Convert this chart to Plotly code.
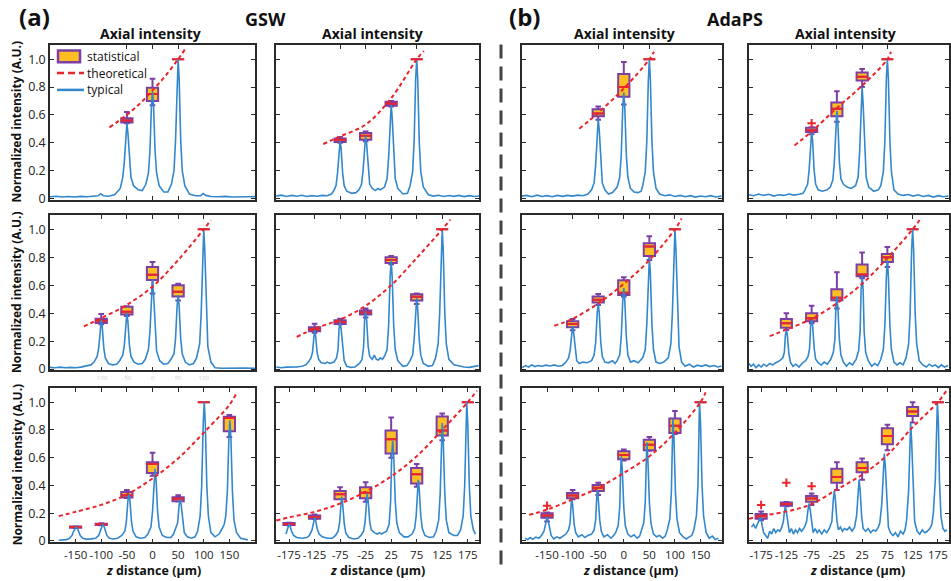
import plotly.graph_objects as go

# ---------------- DATA ----------------
# Panel 1: GSW, row 1
p1_typ = [(-200,.010),(-188,.014),(-176,.008),(-164,.012),(-152,.009),(-140,.013),(-128,.010),(-116,.012),(-106,.018),(-101,.032),(-96,.018),(-86,.014),(-74,.025),
          (-63,.07),(-58,.15),(-55,.26),(-52,.47),(-50,.54),(-48,.47),(-45,.26),(-42,.15),(-37,.09),(-28,.06),(-20,.055),
          (-13,.10),(-8,.18),(-5,.34),(-2,.67),(0,.77),(2,.67),(5,.34),(8,.18),(13,.09),(22,.045),(30,.045),
          (37,.10),(42,.20),(45,.42),(48,.86),(50,1.0),(52,.86),(55,.42),(58,.20),(63,.09),
          (72,.03),(84,.018),(94,.018),(99,.034),(104,.02),(114,.012),(128,.010),(142,.013),(156,.009),(170,.012),(184,.010),(200,.011)]
p1_thz = [-84, -50, -25, 0, 25, 50, 63]
p1_thy = [.51, .60, .68, .776, .88, 1.0, 1.07]
p1_pos = [-50, 0, 50]
p1_q1 = [.545, .70, 1.0]
p1_med = [.56, .75, 1.0]
p1_q3 = [.575, .795, 1.0]
p1_lo = [.54, .67, 1.0]
p1_hi = [.62, .86, 1.0]
p1_out = []

# Panel 2: GSW, row 1
p2_typ = [(-200,.015),(-190,.022),(-180,.012),(-170,.02),(-160,.014),(-150,.021),(-140,.012),(-130,.018),(-120,.014),(-110,.02),(-100,.018),(-92,.03),
          (-88,.05),(-83,.09),(-80,.18),(-77,.36),(-75,.41),(-73,.36),(-70,.18),(-67,.09),(-62,.05),(-52,.035),(-44,.04),
          (-38,.06),(-33,.10),(-30,.20),(-27,.39),(-25,.45),(-23,.39),(-20,.20),(-17,.10),(-12,.07),(-6,.055),(-1,.07),(4,.06),
          (12,.08),(17,.14),(20,.29),(23,.58),(25,.67),(27,.58),(30,.29),(33,.14),(38,.07),(48,.03),(57,.035),
          (62,.09),(67,.19),(70,.41),(73,.86),(75,1.0),(77,.86),(80,.41),(83,.19),(88,.08),
          (98,.025),(108,.015),(118,.021),(128,.012),(138,.019),(148,.013),(158,.02),(168,.011),(178,.018),(188,.012),(197,.016)]
p2_thz = [-108, -75, -25, 25, 75, 89]
p2_thy = [.39, .445, .53, .72, 1.0, 1.06]
p2_pos = [-75, -25, 25, 75]
p2_q1 = [.405, .42, .665, 1.0]
p2_med = [.42, .45, .68, 1.0]
p2_q3 = [.43, .47, .695, 1.0]
p2_lo = [.40, .41, .66, 1.0]
p2_hi = [.44, .48, .70, 1.0]
p2_out = []

# Panel 3: AdaPS, row 1
p3_typ = [(-199,.015),(-190,.02),(-180,.01),(-170,.022),(-160,.012),(-150,.018),(-140,.01),(-130,.02),(-120,.013),(-110,.02),(-100,.015),(-90,.022),(-80,.018),(-70,.03),
          (-63,.06),(-58,.11),(-55,.24),(-52,.49),(-50,.57),(-48,.49),(-45,.24),(-42,.11),(-37,.06),(-30,.03),(-22,.04),
          (-13,.08),(-8,.15),(-5,.31),(-2,.65),(0,.76),(2,.65),(5,.31),(8,.15),(13,.07),(20,.045),(28,.04),(34,.05),
          (37,.09),(42,.19),(45,.41),(48,.85),(50,1.0),(52,.85),(55,.41),(58,.19),(63,.07),
          (70,.03),(80,.018),(90,.024),(100,.012),(110,.02),(120,.01),(130,.018),(140,.008),(150,.016),(160,.01),(170,.018),(180,.009),(191,.015)]
p3_thz = [-87, -50, 0, 50, 59]
p3_thy = [.50, .615, .79, 1.0, 1.055]
p3_pos = [-50, 0, 50]
p3_q1 = [.59, .73, 1.0]
p3_med = [.61, .80, 1.0]
p3_q3 = [.64, .895, 1.0]
p3_lo = [.565, .675, 1.0]
p3_hi = [.66, .98, 1.0]
p3_out = []

# Panel 4: AdaPS, row 1
p4_typ = [(-199,.025),(-190,.018),(-180,.03),(-170,.02),(-160,.028),(-150,.015),(-140,.025),(-130,.02),(-120,.03),(-110,.022),(-100,.028),(-92,.035),
          (-88,.06),(-83,.10),(-80,.20),(-77,.41),(-75,.48),(-73,.41),(-70,.20),(-67,.10),(-62,.06),(-54,.05),(-44,.06),
          (-38,.08),(-33,.13),(-30,.26),(-27,.54),(-25,.63),(-23,.54),(-20,.26),(-17,.14),(-12,.10),(-5,.08),(3,.07),
          (12,.09),(17,.15),(20,.33),(23,.68),(25,.80),(27,.68),(30,.33),(33,.15),(38,.08),(48,.05),(57,.06),
          (62,.09),(67,.19),(70,.41),(73,.86),(75,1.0),(77,.86),(80,.41),(83,.19),(88,.06),
          (96,.03),(106,.02),(116,.026),(126,.015),(136,.024),(146,.012),(156,.02),(166,.008),(176,.018),(186,.01),(196,.016)]
p4_thz = [-109, -75, -25, 25, 75, 82]
p4_thy = [.38, .48, .65, .81, 1.0, 1.055]
p4_pos = [-75, -25, 25, 75]
p4_q1 = [.477, .59, .847, 1.0]
p4_med = [.49, .645, .875, 1.0]
p4_q3 = [.507, .69, .905, 1.0]
p4_lo = [.46, .55, .80, 1.0]
p4_hi = [.51, .77, .93, 1.0]
p4_out = [(-75, .54)]

# Panel 5: GSW, row 2
p5_typ = [(-200,.012),(-190,.01),(-180,.014),(-170,.01),(-160,.012),(-150,.01),(-140,.014),(-130,.02),(-120,.03),
          (-114,.05),(-108,.09),(-105,.15),(-102,.30),(-100,.35),(-98,.30),(-95,.15),(-92,.08),(-86,.04),(-78,.03),(-70,.035),
          (-64,.06),(-58,.10),(-55,.17),(-52,.34),(-50,.40),(-48,.34),(-45,.17),(-42,.09),(-36,.05),(-28,.035),(-20,.04),
          (-14,.07),(-8,.14),(-5,.27),(-2,.54),(0,.64),(2,.54),(5,.27),(8,.13),(14,.06),(22,.035),(30,.04),
          (36,.07),(42,.11),(45,.22),(48,.45),(50,.53),(52,.45),(55,.22),(58,.11),(64,.05),(72,.03),(80,.04),
          (86,.08),(92,.18),(95,.40),(98,.85),(100,1.0),(102,.85),(105,.40),(108,.16),(114,.05),
          (122,.01),(135,.006),(150,.008),(165,.005),(180,.007),(200,.006)]
p5_thz = [-134, -100, -50, 0, 50, 100, 114]
p5_thy = [.305, .365, .46, .59, .78, 1.0, 1.066]
p5_pos = [-100, -50, 0, 50, 100]
p5_q1 = [.33, .39, .637, .52, 1.0]
p5_med = [.345, .41, .675, .554, 1.0]
p5_q3 = [.36, .446, .73, .60, 1.0]
p5_lo = [.32, .38, .54, .49, 1.0]
p5_hi = [.394, .45, .767, .61, 1.0]
p5_out = []

# Panel 6: GSW, row 2
p6_typ = [(-200,.015),(-190,.01),(-180,.014),(-170,.012),(-160,.015),(-150,.02),(-142,.03),
          (-137,.05),(-132,.08),(-129,.12),(-127,.24),(-125,.28),(-123,.24),(-120,.12),(-117,.07),(-112,.045),(-104,.04),(-100,.05),(-95,.04),
          (-87,.05),(-82,.08),(-79,.14),(-77,.29),(-75,.34),(-73,.29),(-70,.14),(-67,.06),(-62,.02),(-54,.012),(-46,.015),
          (-37,.04),(-32,.07),(-29,.16),(-27,.35),(-25,.41),(-23,.35),(-20,.16),(-17,.09),(-12,.07),(-8,.10),(-4,.07),(0,.065),(4,.08),(8,.07),
          (13,.10),(17,.14),(20,.31),(23,.66),(25,.78),(27,.66),(30,.31),(33,.14),(38,.06),(48,.02),(56,.025),
          (62,.06),(67,.10),(70,.21),(73,.43),(75,.51),(77,.43),(80,.21),(83,.10),(88,.04),(98,.02),(106,.025),
          (112,.08),(117,.18),(120,.40),(123,.85),(125,1.0),(127,.85),(130,.40),(133,.18),(138,.07),
          (148,.03),(158,.02),(168,.015),(178,.012),(188,.018),(196,.025)]
p6_thz = [-160, -125, -75, -25, 25, 75, 125, 141]
p6_thy = [.23, .29, .354, .453, .60, .795, 1.0, 1.07]
p6_pos = [-125, -75, -25, 25, 75, 125]
p6_q1 = [.27, .323, .39, .76, .49, 1.0]
p6_med = [.285, .337, .405, .78, .517, 1.0]
p6_q3 = [.30, .35, .42, .80, .535, 1.0]
p6_lo = [.26, .32, .37, .75, .465, 1.0]
p6_hi = [.325, .36, .434, .81, .54, 1.0]
p6_out = []

# Panel 7: AdaPS, row 2
p7_typ = [(-199,.01),(-192,.025),(-186,.015),(-180,.03),(-174,.018),(-168,.025),(-160,.02),(-152,.028),(-144,.022),(-136,.03),(-128,.02),(-120,.026),
          (-113,.05),(-108,.08),(-105,.13),(-102,.26),(-100,.31),(-98,.26),(-95,.13),(-92,.06),(-87,.04),(-80,.05),(-72,.045),
          (-63,.06),(-58,.10),(-55,.19),(-52,.40),(-50,.47),(-48,.40),(-45,.19),(-42,.09),(-37,.05),(-30,.045),(-22,.06),(-17,.04),
          (-13,.06),(-8,.10),(-5,.23),(-2,.49),(0,.58),(2,.49),(5,.23),(8,.10),(13,.05),(20,.06),(28,.045),
          (37,.08),(42,.14),(45,.32),(48,.68),(50,.80),(52,.68),(55,.32),(58,.14),(63,.05),(70,.04),(78,.05),
          (87,.08),(92,.18),(95,.40),(98,.85),(100,1.0),(102,.85),(105,.40),(108,.16),(113,.05),
          (120,.02),(128,.035),(136,.015),(144,.028),(152,.02),(160,.03),(168,.018),(176,.025),(184,.015),(191,.022)]
p7_thz = [-136, -100, -50, 0, 50, 100, 113]
p7_thy = [.31, .36, .47, .61, .78, 1.0, 1.078]
p7_pos = [-100, -50, 0, 50, 100]
p7_q1 = [.30, .476, .53, .81, 1.0]
p7_med = [.323, .497, .547, .877, 1.0]
p7_q3 = [.342, .519, .635, .90, 1.0]
p7_lo = [.278, .458, .52, .78, 1.0]
p7_hi = [.358, .538, .658, .95, 1.0]
p7_out = []

# Panel 8: AdaPS, row 2
p8_typ = [(-199,.04),(-195,.02),(-190,.035),(-185,.01),(-180,.03),(-175,.015),(-170,.035),(-164,.02),(-158,.04),(-152,.03),(-146,.045),
          (-138,.06),(-132,.08),(-129,.12),(-127,.24),(-125,.28),(-123,.24),(-120,.11),(-117,.05),(-112,.02),(-106,.035),(-100,.015),(-94,.04),
          (-87,.06),(-82,.09),(-79,.15),(-77,.31),(-75,.36),(-73,.31),(-70,.15),(-67,.07),(-62,.045),(-56,.03),(-50,.05),(-44,.035),
          (-37,.07),(-32,.12),(-29,.21),(-27,.44),(-25,.52),(-23,.44),(-20,.21),(-17,.10),(-12,.05),(-6,.02),(0,.045),(6,.03),
          (13,.07),(18,.13),(21,.27),(23,.57),(25,.67),(27,.57),(29,.27),(32,.12),(37,.06),(44,.02),(50,.04),(56,.025),
          (62,.07),(67,.14),(70,.31),(73,.66),(75,.78),(77,.66),(80,.31),(83,.14),(88,.05),(94,.03),(100,.045),(106,.03),
          (112,.08),(117,.18),(120,.40),(123,.85),(125,1.0),(127,.85),(130,.40),(133,.18),(138,.06),
          (145,.03),(152,.015),(158,.035),(164,.02),(170,.03),(176,.01),(182,.03),(188,.015),(195,.025)]
p8_thz = [-158, -125, -75, -25, 25, 75, 125, 141]
p8_thy = [.236, .283, .36, .47, .61, .795, 1.0, 1.078]
p8_pos = [-125, -75, -25, 25, 75, 125]
p8_q1 = [.295, .342, .493, .665, .767, 1.0]
p8_med = [.328, .363, .51, .677, .80, 1.0]
p8_q3 = [.359, .40, .571, .748, .823, 1.0]
p8_lo = [.28, .328, .434, .65, .73, 1.0]
p8_hi = [.40, .453, .693, .835, .873, 1.0]
p8_out = []

# Panel 9: GSW, row 3
p9_typ = [(-183,.005),(-175,.006),(-168,.01),
          (-162,.02),(-157,.04),(-154,.07),(-151,.095),(-149,.10),(-147,.095),(-144,.07),(-141,.04),(-136,.02),(-128,.012),(-120,.015),
          (-111,.02),(-105,.04),(-102,.07),(-99,.11),(-97,.12),(-95,.11),(-92,.07),(-89,.04),(-84,.02),(-76,.015),(-68,.02),
          (-60,.04),(-54,.07),(-51,.14),(-48,.29),(-46,.34),(-44,.29),(-41,.14),(-38,.07),(-32,.03),(-24,.02),(-15,.025),
          (-9,.05),(-3,.10),(0,.21),(3,.44),(5,.52),(7,.44),(10,.21),(13,.10),(19,.04),(28,.025),(36,.025),
          (41,.05),(46,.10),(49,.13),(52,.26),(54,.30),(56,.26),(59,.13),(62,.06),(68,.03),(76,.02),(83,.03),
          (88,.07),(93,.18),(96,.40),(99,.85),(101,1.0),(103,.85),(106,.40),(109,.18),(114,.06),(122,.03),(130,.05),(136,.09),(140,.12),
          (143,.18),(146,.35),(149,.74),(151,.87),(153,.74),(156,.35),(159,.15),(164,.06),(172,.02),(180,.01),(186,.008)]
p9_thz = [-183, -150, -100, -50, 0, 50, 100, 150, 164]
p9_thy = [.179, .21, .26, .335, .45, .595, .78, .98, 1.066]
p9_pos = [-150, -100, -50, 0, 50, 100, 150]
p9_q1 = [.095, .115, .313, .489, .287, 1.0, .791]
p9_med = [.10, .12, .329, .555, .304, 1.0, .885]
p9_q3 = [.105, .125, .353, .567, .315, 1.0, .894]
p9_lo = [.093, .113, .31, .47, .285, 1.0, .749]
p9_hi = [.107, .127, .367, .636, .33, 1.0, .908]
p9_out = []

# Panel 10: GSW, row 3
p10_typ = [(-181,.05),(-178,.09),(-176,.115),(-175,.12),(-173,.11),(-170,.07),(-166,.04),(-160,.025),(-150,.02),(-140,.025),
           (-135,.04),(-130,.08),(-127,.13),(-125,.17),(-123,.15),(-120,.09),(-116,.05),(-110,.03),(-100,.02),(-90,.02),
           (-84,.04),(-79,.07),(-76,.13),(-74,.27),(-72,.32),(-70,.27),(-67,.13),(-64,.06),(-58,.025),(-48,.015),(-40,.02),
           (-34,.04),(-29,.07),(-26,.14),(-24,.29),(-22,.34),(-20,.29),(-17,.14),(-14,.08),(-8,.06),(-2,.05),(2,.06),(6,.05),
           (16,.07),(21,.12),(24,.29),(26,.61),(28,.72),(30,.61),(33,.29),(36,.13),(41,.06),(50,.03),(58,.03),
           (66,.05),(71,.09),(74,.18),(76,.37),(78,.44),(80,.37),(83,.18),(86,.09),(91,.04),(100,.025),(108,.03),
           (113,.07),(118,.15),(121,.34),(123,.72),(125,.85),(127,.72),(130,.34),(133,.15),(138,.06),(148,.04),(155,.04),
           (161,.08),(166,.18),(169,.40),(171,.85),(173,1.0),(175,.85),(178,.40),(181,.18),(186,.08),(190,.05)]
p10_thz = [-200, -175, -125, -75, -25, 25, 75, 125, 175, 193]
p10_thy = [.148, .17, .21, .27, .355, .465, .61, .80, 1.0, 1.083]
p10_pos = [-175, -125, -75, -25, 25, 75, 125, 175]
p10_q1 = [.115, .16, .30, .308, .631, .414, .76, 1.0]
p10_med = [.12, .172, .336, .348, .732, .48, .795, 1.0]
p10_q3 = [.13, .184, .36, .388, .795, .525, .897, 1.0]
p10_lo = [.113, .158, .30, .282, .60, .39, .725, 1.0]
p10_hi = [.132, .19, .388, .424, .89, .555, .918, 1.0]
p10_out = []

# Panel 11: AdaPS, row 3
p11_typ = [(-193,.02),(-188,.01),(-183,.025),(-178,.012),(-172,.028),(-166,.02),
           (-161,.04),(-156,.07),(-153,.12),(-151,.16),(-150,.17),(-148,.15),(-145,.09),(-142,.04),(-137,.015),(-131,.03),(-125,.02),(-119,.035),
           (-113,.05),(-108,.08),(-105,.13),(-103,.26),(-102,.30),(-100,.26),(-97,.12),(-94,.06),(-89,.03),(-82,.045),(-76,.025),(-70,.04),
           (-63,.05),(-58,.08),(-55,.15),(-53,.31),(-52,.37),(-50,.31),(-47,.15),(-44,.07),(-39,.03),(-32,.045),(-25,.02),(-20,.04),
           (-16,.06),(-11,.11),(-8,.24),(-6,.52),(-5,.61),(-3,.52),(0,.24),(3,.11),(8,.05),(14,.03),(20,.045),(26,.02),(31,.035),
           (34,.07),(39,.13),(42,.28),(44,.60),(45,.71),(47,.60),(50,.28),(53,.13),(58,.05),(64,.03),(70,.04),(76,.02),(81,.035),
           (85,.08),(90,.16),(93,.35),(95,.75),(96,.88),(98,.75),(101,.35),(104,.16),(109,.06),(116,.03),(122,.015),(128,.03),(133,.04),
           (137,.08),(142,.18),(145,.40),(147,.85),(148,1.0),(150,.85),(153,.40),(156,.18),(161,.06),(167,.02),(173,.035),(179,.01),(185,.02)]
p11_thz = [-185, -150, -100, -50, 0, 50, 100, 150, 160]
p11_thy = [.188, .226, .30, .383, .49, .61, .78, 1.0, 1.07]
p11_pos = [-150, -100, -50, 0, 50, 100, 150]
p11_q1 = [.167, .308, .36, .588, .654, .777, 1.0]
p11_med = [.184, .327, .383, .619, .694, .83, 1.0]
p11_q3 = [.20, .346, .403, .647, .73, .883, 1.0]
p11_lo = [.141, .30, .332, .58, .65, .77, 1.0]
p11_hi = [.205, .367, .419, .659, .749, .936, 1.0]
p11_out = [(-150, .254)]

# Panel 12: AdaPS, row 3
p12_typ = [(-194,.10),(-190,.12),(-186,.09),(-182,.12),(-179,.15),(-177,.17),(-175,.16),(-173,.11),(-170,.06),(-166,.04),(-162,.02),(-158,.07),(-154,.05),(-150,.09),(-146,.06),(-142,.08),(-138,.07),
           (-134,.10),(-131,.14),(-129,.21),(-127,.25),(-125,.21),(-122,.12),(-119,.06),(-115,.09),(-111,.05),(-107,.08),(-103,.06),(-99,.09),(-95,.07),
           (-89,.10),(-85,.14),(-82,.23),(-80,.27),(-78,.23),(-75,.12),(-72,.06),(-68,.09),(-64,.06),(-60,.08),(-55,.05),(-50,.08),(-45,.06),
           (-40,.09),(-35,.14),(-32,.30),(-30,.36),(-28,.30),(-25,.15),(-22,.08),(-18,.10),(-14,.07),(-10,.09),(-5,.08),(0,.10),(5,.07),
           (10,.10),(14,.18),(17,.37),(19,.44),(21,.37),(24,.18),(27,.09),(32,.07),(37,.09),(42,.06),(47,.08),(52,.07),(57,.10),
           (60,.13),(64,.27),(67,.53),(69,.63),(71,.53),(74,.25),(77,.10),(81,.06),(86,.04),(91,.06),(96,.03),(101,.07),(106,.05),(110,.08),
           (113,.15),(117,.36),(119,.72),(121,.85),(123,.72),(126,.36),(129,.14),(134,.07),(139,.05),(144,.08),(149,.06),(154,.07),(159,.09),(163,.12),
           (166,.20),(170,.45),(172,.85),(174,1.0),(176,.85),(178,.45),(181,.18),(185,.09),(189,.07),(193,.08)]
p12_thz = [-199, -175, -125, -75, -25, 25, 75, 125, 175, 195]
p12_thy = [.16, .18, .212, .266, .371, .477, .619, .82, 1.0, 1.10]
p12_pos = [-175, -125, -75, -25, 25, 75, 125, 175]
p12_q1 = [.16, .254, .282, .419, .496, .696, .901, 1.0]
p12_med = [.179, .266, .306, .461, .525, .756, .932, 1.0]
p12_q3 = [.195, .277, .325, .52, .567, .812, .965, 1.0]
p12_lo = [.15, .25, .259, .367, .442, .654, .854, 1.0]
p12_hi = [.212, .28, .343, .567, .595, .838, 1.0, 1.0]
p12_out = [(-175, .259), (-125, .419), (-75, .395)]

y_ticks = [0, 0.2, 0.4, 0.6, 0.8, 1.0]
y_ticklabels = ["0", "0.2", "0.4", "0.6", "0.8", "1.0"]
col_titles = ["Axial intensity"] * 4
group_titles = ["GSW", "AdaPS"]
panel_letters = ["(a)", "(b)"]
y_title = "Normalized intensity (A.U.)"
x_title = "<i>z</i> distance (μm)"
legend_names = ["statistical", "theoretical", "typical"]

# ---------------- FIGURE ----------------
W, H = 951, 581
FONT = "Open Sans"
C_BLUE = "#3387CC"
C_RED = "#E8262B"
C_PURPLE = "#7B3FA6"
C_FILL = "#FDBE23"
C_AX = "#2a2a2a"

panels = [
    (p1_typ, p1_thz, p1_thy, p1_pos, p1_q1, p1_med, p1_q3, p1_lo, p1_hi, p1_out),
    (p2_typ, p2_thz, p2_thy, p2_pos, p2_q1, p2_med, p2_q3, p2_lo, p2_hi, p2_out),
    (p3_typ, p3_thz, p3_thy, p3_pos, p3_q1, p3_med, p3_q3, p3_lo, p3_hi, p3_out),
    (p4_typ, p4_thz, p4_thy, p4_pos, p4_q1, p4_med, p4_q3, p4_lo, p4_hi, p4_out),
    (p5_typ, p5_thz, p5_thy, p5_pos, p5_q1, p5_med, p5_q3, p5_lo, p5_hi, p5_out),
    (p6_typ, p6_thz, p6_thy, p6_pos, p6_q1, p6_med, p6_q3, p6_lo, p6_hi, p6_out),
    (p7_typ, p7_thz, p7_thy, p7_pos, p7_q1, p7_med, p7_q3, p7_lo, p7_hi, p7_out),
    (p8_typ, p8_thz, p8_thy, p8_pos, p8_q1, p8_med, p8_q3, p8_lo, p8_hi, p8_out),
    (p9_typ, p9_thz, p9_thy, p9_pos, p9_q1, p9_med, p9_q3, p9_lo, p9_hi, p9_out),
    (p10_typ, p10_thz, p10_thy, p10_pos, p10_q1, p10_med, p10_q3, p10_lo, p10_hi, p10_out),
    (p11_typ, p11_thz, p11_thy, p11_pos, p11_q1, p11_med, p11_q3, p11_lo, p11_hi, p11_out),
    (p12_typ, p12_thz, p12_thy, p12_pos, p12_q1, p12_med, p12_q3, p12_lo, p12_hi, p12_out),
]

COLX = [(50, 255), (276, 479), (522, 722), (749, 949)]
ROWY = [(46, 202), (218, 375), (393, 549)]
XRANGES = [[-200, 200], [-200.5, 197], [-199, 192], [-199, 197]]
BOXW = 22

fig = go.Figure()
layout = {}

for k, (typ, thz, thy, pos, q1, med, q3, lo, hi, out) in enumerate(panels, 1):
    r, c = (k - 1) // 4, (k - 1) % 4
    xa = "x" if k == 1 else f"x{k}"
    ya = "y" if k == 1 else f"y{k}"
    fig.add_trace(go.Box(x=pos, q1=q1, median=med, q3=q3, lowerfence=lo, upperfence=hi,
                         width=BOXW, whiskerwidth=0.5, boxpoints=False,
                         fillcolor=C_FILL, line=dict(color=C_PURPLE, width=2),
                         xaxis=xa, yaxis=ya, name=legend_names[0], showlegend=False,
                         hoverinfo="skip"))
    mx, my = [], []
    for p, m in zip(pos, med):
        mx += [p - BOXW / 2 - 1, p + BOXW / 2 + 1, None]
        my += [m, m, None]
    fig.add_trace(go.Scatter(x=mx, y=my, mode="lines", line=dict(color=C_RED, width=2),
                             xaxis=xa, yaxis=ya, showlegend=False, hoverinfo="skip"))
    fig.add_trace(go.Scatter(x=[t[0] for t in typ], y=[t[1] for t in typ], mode="lines",
                             line=dict(color=C_BLUE, width=1.6), xaxis=xa, yaxis=ya,
                             name=legend_names[2], showlegend=False, hoverinfo="skip"))
    fig.add_trace(go.Scatter(x=thz, y=thy, mode="lines",
                             line=dict(color=C_RED, width=2, dash="4px,3px", shape="spline", smoothing=1.0),
                             xaxis=xa, yaxis=ya, name=legend_names[1], showlegend=False,
                             hoverinfo="skip"))
    if out:
        fig.add_trace(go.Scatter(x=[o[0] for o in out], y=[o[1] for o in out], mode="markers",
                                 marker=dict(symbol="cross-thin", size=6, line=dict(color=C_RED, width=2)),
                                 xaxis=xa, yaxis=ya, showlegend=False, hoverinfo="skip"))

    x0, x1 = COLX[c]
    y0, y1 = ROWY[r]
    show_xlab = (r == 2) or (k == 5)
    layout["xaxis" + ("" if k == 1 else str(k))] = dict(
        domain=[x0 / W, x1 / W], anchor=ya, range=XRANGES[c],
        tickvals=pos, ticktext=[str(p) for p in pos], showticklabels=show_xlab, tickangle=0,
        ticklabelstandoff=1,
        tickfont=dict(family=FONT, size=11.5 if r == 2 else 6, color="#222" if r == 2 else "#cfcfcf"),
        ticks="inside", ticklen=4, tickwidth=1, tickcolor=C_AX,
        showline=True, linecolor=C_AX, linewidth=1.5, mirror="ticks",
        showgrid=False, zeroline=False, fixedrange=True)
    layout["yaxis" + ("" if k == 1 else str(k))] = dict(
        domain=[1 - y1 / H, 1 - y0 / H], anchor=xa, range=[-0.01, 1.1],
        tickvals=y_ticks, ticktext=y_ticklabels, showticklabels=(c == 0),
        tickfont=dict(family=FONT, size=12.5, color="#222"),
        ticks="inside", ticklen=4, tickwidth=1, tickcolor=C_AX,
        showline=True, linecolor=C_AX, linewidth=1.5, mirror="ticks",
        showgrid=False, zeroline=False, fixedrange=True)

ann = []
def A(text, x, y, size, angle=0, xanchor="center", yanchor="middle"):
    ann.append(dict(text=text, x=x / W, y=1 - y / H, xref="paper", yref="paper",
                    showarrow=False, textangle=angle, xanchor=xanchor, yanchor=yanchor,
                    borderpad=0, font=dict(family=FONT, size=size, color="#111")))

A("<b>" + panel_letters[0] + "</b>", 34, 17, 24)
A("<b>" + panel_letters[1] + "</b>", 524, 17, 24)
A("<b>" + group_titles[0] + "</b>", 265, 19, 18)
A("<b>" + group_titles[1] + "</b>", 735, 19, 18)
for cx, t in zip([150, 372, 624, 845], col_titles):
    A("<b>" + t + "</b>", cx, 34, 14)
for r in range(3):
    A("<b>" + y_title + "</b>", 17, (ROWY[r][0] + ROWY[r][1]) / 2, 12, -90)
for cx in [153, 377, 630, 857]:
    A("<b>" + x_title + "</b>", cx, 568, 12.5, yanchor="top")

# legend (drawn in the first panel's corner)
LEG_Y = [57, 74, 91]
for name, ly in zip(legend_names, LEG_Y):
    A(name, 86, ly, 12, xanchor="left")
shapes = [
    dict(type="line", xref="paper", yref="paper", x0=501 / W, x1=501 / W,
         y0=1 - 45 / H, y1=1 - 578 / H, line=dict(color="#444", width=3, dash="14px,8px")),
    dict(type="rect", xref="paper", yref="paper", x0=58 / W, x1=80 / W,
         y0=1 - (LEG_Y[0] - 6) / H, y1=1 - (LEG_Y[0] + 6) / H,
         fillcolor=C_FILL, line=dict(color=C_PURPLE, width=2.5)),
    dict(type="line", xref="paper", yref="paper", x0=57 / W, x1=84 / W,
         y0=1 - LEG_Y[1] / H, y1=1 - LEG_Y[1] / H, line=dict(color=C_RED, width=2.5, dash="7px,4px")),
    dict(type="line", xref="paper", yref="paper", x0=57 / W, x1=84 / W,
         y0=1 - LEG_Y[2] / H, y1=1 - LEG_Y[2] / H, line=dict(color=C_BLUE, width=2.5)),
]

layout.update(dict(
    width=W, height=H, margin=dict(l=0, r=0, t=0, b=0),
    paper_bgcolor="white", plot_bgcolor="white",
    font=dict(family=FONT, color="#222"),
    annotations=ann, shapes=shapes, showlegend=False,
))
fig.update_layout(**layout)
fig.write_html("out.html", config={"displayModeBar": False})
